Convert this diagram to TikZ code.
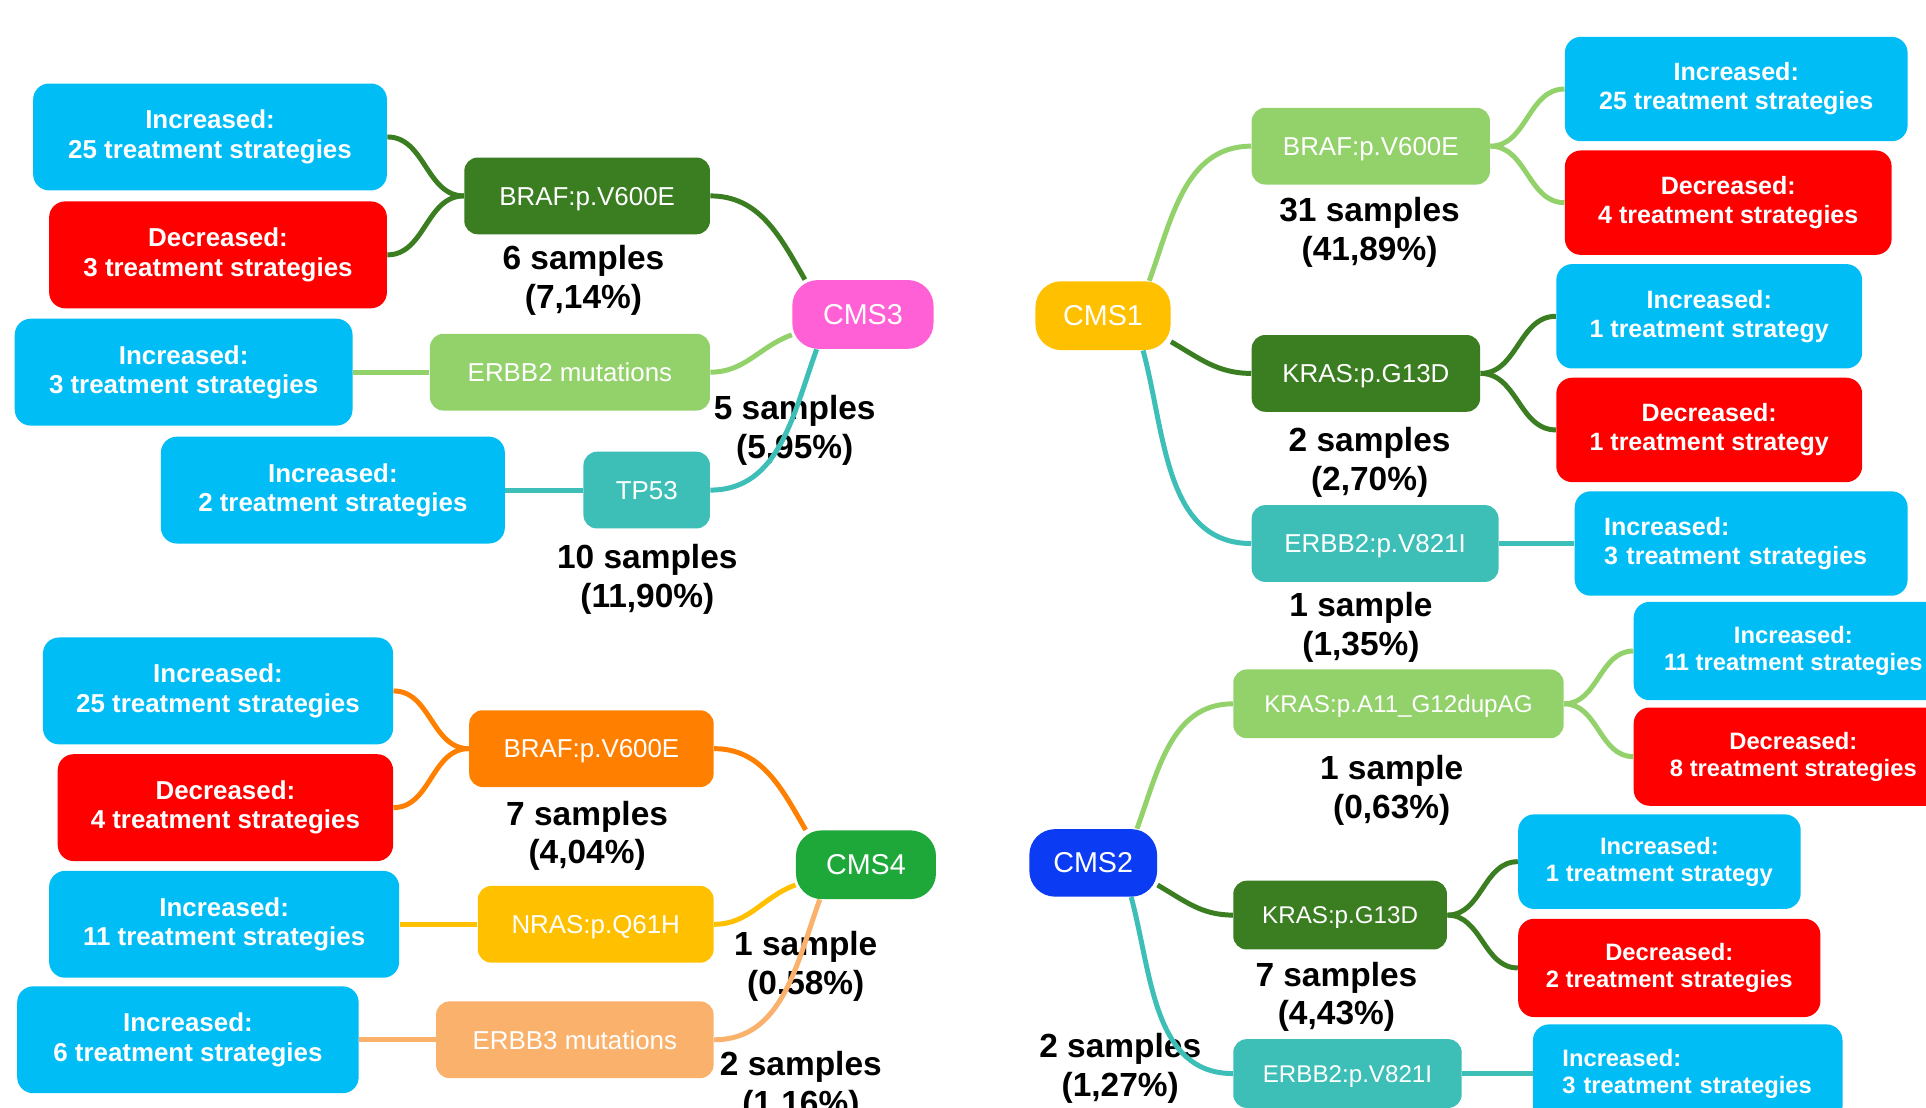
\documentclass[tikz,border=0pt]{standalone}
\usepackage{fontspec}
\setmainfont{Liberation Sans}
\usepackage{tikz}
\usepackage{xcolor}

\definecolor{leafblue}{HTML}{00BDF5}
\definecolor{leafred}{HTML}{FF0000}
\definecolor{dkgreen}{HTML}{3B7D21}
\definecolor{ltgreen}{HTML}{93D16B}
\definecolor{mutteal}{HTML}{3DBFB8}
\definecolor{cmspink}{HTML}{FF60D5}
\definecolor{amber}{HTML}{FFC000}
\definecolor{cmsblue}{HTML}{0B3BF2}
\definecolor{cmsgreen}{HTML}{1FA83A}
\definecolor{dkorange}{HTML}{FF8000}
\definecolor{ltorange}{HTML}{FAB16C}

\begin{document}
\begin{tikzpicture}[
  leaf/.style={rounded corners=0.26cm, text=white, align=center, inner sep=0pt,
    minimum height=1.74cm, font=\bfseries\fontsize{12}{13.6}\selectfont},
  inc/.style={leaf, fill=leafblue},
  dec/.style={leaf, fill=leafred},
  mut/.style={rounded corners=0.22cm, text=white, inner sep=0pt,
    text height=8.6pt, text depth=0pt,
    minimum height=1.25cm, font=\fontsize{12}{14}\selectfont},
  cms/.style={rounded corners=0.42cm, text=white, inner sep=0pt,
    minimum height=1.12cm, font=\fontsize{13.3}{15}\selectfont},
  count/.style={align=center, font=\bfseries\fontsize{15.5}{18}\selectfont},
  link/.style={line width=2.3pt}]

  \useasboundingbox (0,0) rectangle (31.36,18.04);
  \clip (0,0) rectangle (31.36,18.04);

  % CMS3 (top left)
  \node[cms, fill=cmspink, minimum width=2.3cm] (cms3) at (14.05,12.92) {CMS3};
  \node[mut, fill=dkgreen, minimum width=4.0cm] (braf3) at (9.56,14.85) {BRAF:p.V600E};
  \node[mut, fill=ltgreen, minimum width=4.56cm] (erbbm3) at (9.28,11.98) {ERBB2 mutations};
  \node[mut, fill=mutteal, minimum width=2.06cm] (tp53) at (10.53,10.06) {TP53};
  \node[inc, minimum width=5.76cm] (inc3a) at (3.42,15.81) {Increased:\\25 treatment strategies};
  \node[dec, minimum width=5.5cm] (dec3a) at (3.55,13.89) {Decreased:\\3 treatment strategies};
  \node[inc, minimum width=5.5cm] (inc3b) at (2.99,11.98) {Increased:\\3 treatment strategies};
  \node[inc, minimum width=5.6cm] (inc3c) at (5.42,10.06) {Increased:\\2 treatment strategies};
  \node[count] (n3a) at (9.50,13.47) {6 samples\\(7,14\%)};
  \node[count] (n3b) at (12.94,11.03) {5 samples\\(5,95\%)};
  \node[count] (n3c) at (10.54,8.61) {10 samples\\(11,90\%)};

  \draw[link, dkgreen] (braf3.east) to[out=0,in=120] (cms3.149);
  \draw[link, ltgreen] (erbbm3.east) to[out=0,in=200] (cms3.196);
  \draw[link, mutteal] (tp53.east) to[out=0,in=250] (cms3.217);
  \draw[link, dkgreen] (braf3.west) to[out=180,in=0] (inc3a.east);
  \draw[link, dkgreen] (braf3.west) to[out=180,in=0] (dec3a.east);
  \draw[link, ltgreen] (erbbm3.west) -- (inc3b.east);
  \draw[link, mutteal] (tp53.west) -- (inc3c.east);

  % CMS1 (top right)
  \begin{scope}[leaf/.append style={minimum height=1.7cm, font=\bfseries\fontsize{11.6}{13.4}\selectfont}]
  \node[cms, fill=amber, minimum width=2.2cm] (cms1) at (17.96,12.90) {CMS1};
  \node[mut, fill=ltgreen, minimum width=3.88cm] (braf1) at (22.32,15.66) {BRAF:p.V600E};
  \node[mut, fill=dkgreen, minimum width=3.72cm] (kras1) at (22.24,11.96) {KRAS:p.G13D};
  \node[mut, fill=mutteal, minimum width=4.02cm] (erbb1) at (22.39,9.19) {ERBB2:p.V821I};
  \node[inc, minimum width=5.58cm] (inc1a) at (28.27,16.59) {Increased:\\25 treatment strategies};
  \node[dec, minimum width=5.32cm] (dec1a) at (28.14,14.74) {Decreased:\\4 treatment strategies};
  \node[inc, minimum width=4.98cm] (inc1b) at (27.83,12.89) {Increased:\\1 treatment strategy};
  \node[dec, minimum width=4.98cm] (dec1b) at (27.83,11.04) {Decreased:\\1 treatment strategy};
  \node[inc, minimum width=5.42cm, text width=4.46cm, align=left] (inc1c) at (28.35,9.19) {Increased:\\3 treatment strategies};
  \node[count] (n1a) at (22.30,14.25) {31 samples\\(41,89\%)};
  \node[count] (n1b) at (22.30,10.51) {2 samples\\(2,70\%)};
  \node[count] (n1c) at (22.16,7.83) {1 sample\\(1,35\%)};
  \end{scope}

  \draw[link, ltgreen] (cms1.37) to[out=70,in=180] (braf1.west);
  \draw[link, dkgreen] (cms1.-21) to[out=-30,in=180] (kras1.west);
  \draw[link, mutteal] (cms1.-41) to[out=-75,in=180] (erbb1.west);
  \draw[link, ltgreen] (braf1.east) to[out=0,in=180] (inc1a.west);
  \draw[link, ltgreen] (braf1.east) to[out=0,in=180] (dec1a.west);
  \draw[link, dkgreen] (kras1.east) to[out=0,in=180] (inc1b.west);
  \draw[link, dkgreen] (kras1.east) to[out=0,in=180] (dec1b.west);
  \draw[link, mutteal] (erbb1.east) -- (inc1c.west);

  % CMS4 (bottom left)
  \node[cms, fill=cmsgreen, minimum width=2.28cm] (cms4) at (14.10,3.96) {CMS4};
  \node[mut, fill=dkorange, minimum width=3.98cm] (braf4) at (9.63,5.85) {BRAF:p.V600E};
  \node[mut, fill=amber, minimum width=3.84cm] (nras4) at (9.70,2.99) {NRAS:p.Q61H};
  \node[mut, fill=ltorange, minimum width=4.52cm] (erbb4) at (9.36,1.11) {ERBB3 mutations};
  \node[inc, minimum width=5.7cm] (inc4a) at (3.55,6.79) {Increased:\\25 treatment strategies};
  \node[dec, minimum width=5.46cm] (dec4a) at (3.67,4.89) {Decreased:\\4 treatment strategies};
  \node[inc, minimum width=5.7cm] (inc4b) at (3.65,2.99) {Increased:\\11 treatment strategies};
  \node[inc, minimum width=5.56cm] (inc4c) at (3.06,1.11) {Increased:\\6 treatment strategies};
  \node[count] (n4a) at (9.56,4.43) {7 samples\\(4,04\%)};
  \node[count] (n4b) at (13.12,2.31) {1 sample\\(0,58\%)};
  \node[count] (n4c) at (13.04,0.35) {2 samples\\(1,16\%)};

  \draw[link, dkorange] (braf4.east) to[out=0,in=120] (cms4.150);
  \draw[link, amber] (nras4.east) to[out=0,in=200] (cms4.196);
  \draw[link, ltorange] (erbb4.east) to[out=0,in=250] (cms4.217);
  \draw[link, dkorange] (braf4.west) to[out=180,in=0] (inc4a.east);
  \draw[link, dkorange] (braf4.west) to[out=180,in=0] (dec4a.east);
  \draw[link, amber] (nras4.west) -- (inc4b.east);
  \draw[link, ltorange] (erbb4.west) -- (inc4c.east);

  % CMS2 (bottom right)
  \begin{scope}[leaf/.append style={minimum height=1.6cm, font=\bfseries\fontsize{11}{12.6}\selectfont},
    mut/.append style={minimum height=1.12cm, text height=8pt, font=\fontsize{11.2}{13}\selectfont}]
  \node[cms, fill=cmsblue, minimum width=2.08cm, minimum height=1.1cm] (cms2) at (17.80,3.99) {CMS2};
  \node[mut, fill=ltgreen, minimum width=5.38cm] (krasa2) at (22.77,6.58) {KRAS:p.A11\_G12dupAG};
  \node[mut, fill=dkgreen, minimum width=3.48cm] (kras2) at (21.82,3.14) {KRAS:p.G13D};
  \node[mut, fill=mutteal, minimum width=3.72cm] (erbb2) at (21.94,0.56) {ERBB2:p.V821I};
  \node[inc, minimum width=5.2cm] (inc2a) at (29.20,7.44) {Increased:\\11 treatment strategies};
  \node[dec, minimum width=5.2cm] (dec2a) at (29.20,5.72) {Decreased:\\8 treatment strategies};
  \node[inc, minimum width=4.6cm, minimum height=1.54cm] (inc2b) at (27.02,4.01) {Increased:\\1 treatment strategy};
  \node[dec, minimum width=4.92cm] (dec2b) at (27.18,2.28) {Decreased:\\2 treatment strategies};
  \node[inc, minimum width=5.04cm, text width=4.08cm, align=left] (inc2c) at (27.48,0.56) {Increased:\\3 treatment strategies};
  \node[count] (n2a) at (22.66,5.17) {1 sample\\(0,63\%)};
  \node[count] (n2b) at (21.76,1.81) {7 samples\\(4,43\%)};
  \node[count] (n2c) at (18.24,0.65) {2 samples\\(1,27\%)};
  \end{scope}

  \draw[link, ltgreen] (cms2.38) to[out=70,in=180] (krasa2.west);
  \draw[link, dkgreen] (cms2.-19) to[out=-30,in=180] (kras2.west);
  \draw[link, mutteal] (cms2.-42) to[out=-75,in=180] (erbb2.west);
  \draw[link, ltgreen] (krasa2.east) to[out=0,in=180] (inc2a.west);
  \draw[link, ltgreen] (krasa2.east) to[out=0,in=180] (dec2a.west);
  \draw[link, dkgreen] (kras2.east) to[out=0,in=180] (inc2b.west);
  \draw[link, dkgreen] (kras2.east) to[out=0,in=180] (dec2b.west);
  \draw[link, mutteal] (erbb2.east) -- (inc2c.west);
\end{tikzpicture}
\end{document}
